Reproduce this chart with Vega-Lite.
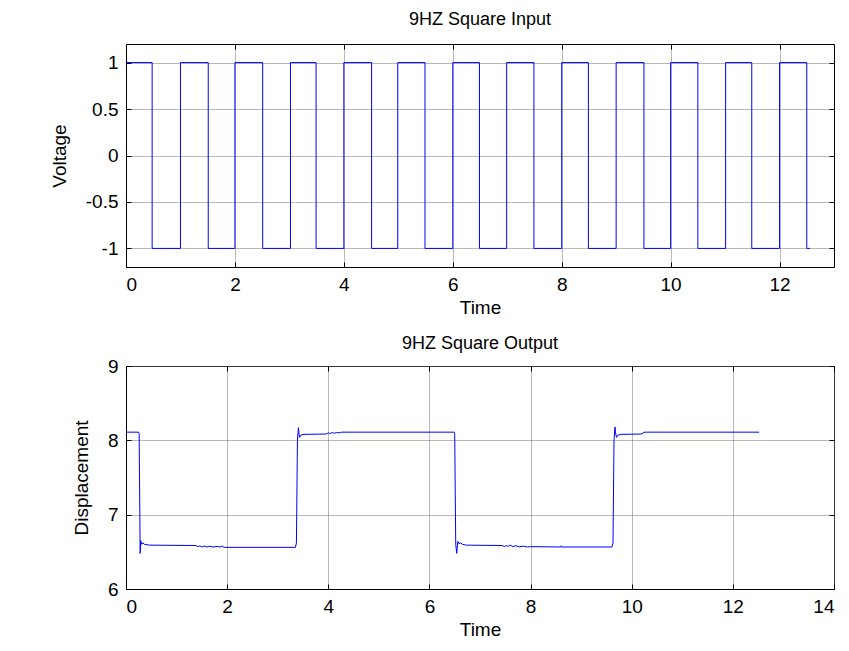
{
  "$schema": "https://vega.github.io/schema/vega-lite/v6.json",
  "padding": {"left": 49, "top": 10, "right": 10, "bottom": 5},
  "spacing": 16,
  "config": {
    "font": "Liberation Sans",
    "view": {"stroke": "#000000", "strokeWidth": 1},
    "axis": {
      "domainColor": "#000000",
      "tickColor": "#000000",
      "tickSize": -5,
      "labelPadding": 13,
      "labelColor": "#000000",
      "titleColor": "#000000",
      "labelFont": "Liberation Sans",
      "titleFont": "Liberation Sans",
      "labelFontSize": 19,
      "titleFontSize": 19,
      "titleFontWeight": "normal",
      "gridColor": "#707070",
      "gridDash": [1, 1],
      "gridOpacity": 1,
      "labelExpr": "toString(datum.value)"
    },
    "title": {"font": "Liberation Sans", "fontSize": 18, "fontWeight": "normal", "color": "#000000", "offset": 15}
  },
  "vconcat": [
    {
      "title": "9HZ Square Input",
      "width": 708,
      "height": 223,
      "data": {"values": [
        {"t": 0, "v": 1}, {"t": 0.48, "v": -1}, {"t": 1.0, "v": 1}, {"t": 1.51, "v": -1},
        {"t": 2.0, "v": 1}, {"t": 2.51, "v": -1}, {"t": 3.02, "v": 1}, {"t": 3.49, "v": -1},
        {"t": 4.0, "v": 1}, {"t": 4.51, "v": -1}, {"t": 4.99, "v": 1}, {"t": 5.49, "v": -1},
        {"t": 6.0, "v": 1}, {"t": 6.49, "v": -1}, {"t": 6.99, "v": 1}, {"t": 7.49, "v": -1},
        {"t": 8.0, "v": 1}, {"t": 8.49, "v": -1}, {"t": 9.0, "v": 1}, {"t": 9.51, "v": -1},
        {"t": 10.0, "v": 1}, {"t": 10.5, "v": -1}, {"t": 11.01, "v": 1}, {"t": 11.49, "v": -1},
        {"t": 12.0, "v": 1}, {"t": 12.5, "v": -1}, {"t": 12.56, "v": -1}
      ]},
      "resolve": {"axis": {"x": "independent", "y": "independent"}},
      "layer": [
        {
          "mark": {"type": "line", "interpolate": "step-after", "color": "#0000ff", "strokeWidth": 1},
          "encoding": {
            "x": {"field": "t", "type": "quantitative", "scale": {"domain": [0, 13], "nice": false, "zero": false},
                  "axis": {"title": "Time", "values": [0, 2, 4, 6, 8, 10, 12], "titlePadding": 4, "grid": true}},
            "y": {"field": "v", "type": "quantitative", "scale": {"domain": [-1.2, 1.2], "nice": false},
                  "axis": {"title": "Voltage", "values": [-1, -0.5, 0, 0.5, 1], "titlePadding": 16, "grid": true}}
          }
        },
        {
          "mark": {"type": "point", "opacity": 0},
          "encoding": {
            "x": {"field": "t", "type": "quantitative",
                  "axis": {"orient": "top", "title": null, "labels": false, "grid": false, "domain": false, "values": [0, 2, 4, 6, 8, 10, 12]}},
            "y": {"field": "v", "type": "quantitative",
                  "axis": {"orient": "right", "title": null, "labels": false, "grid": false, "domain": false, "values": [-1, -0.5, 0, 0.5, 1]}}
          }
        }
      ]
    },
    {
      "title": {"text": "9HZ Square Output", "offset": 4},
      "width": 708,
      "height": 223,
      "data": {"values": [
        {"t": 0, "d": 8.11}, {"t": 0.25, "d": 8.11}, {"t": 0.26, "d": 8.09}, {"t": 0.28, "d": 6.48},
        {"t": 0.29, "d": 6.65}, {"t": 0.31, "d": 6.6}, {"t": 0.33, "d": 6.62}, {"t": 0.37, "d": 6.6},
        {"t": 0.47, "d": 6.59}, {"t": 1.38, "d": 6.585}, {"t": 1.42, "d": 6.57}, {"t": 1.46, "d": 6.58},
        {"t": 1.5, "d": 6.565}, {"t": 1.55, "d": 6.578}, {"t": 1.6, "d": 6.565}, {"t": 1.66, "d": 6.575},
        {"t": 1.72, "d": 6.565}, {"t": 1.8, "d": 6.572}, {"t": 1.86, "d": 6.565}, {"t": 1.9, "d": 6.578},
        {"t": 1.94, "d": 6.56}, {"t": 3.35, "d": 6.56}, {"t": 3.37, "d": 6.62}, {"t": 3.39, "d": 8.0},
        {"t": 3.41, "d": 8.17}, {"t": 3.42, "d": 8.1}, {"t": 3.43, "d": 8.04}, {"t": 3.46, "d": 8.07},
        {"t": 3.5, "d": 8.08}, {"t": 3.96, "d": 8.085}, {"t": 4.0, "d": 8.1}, {"t": 4.04, "d": 8.092},
        {"t": 4.08, "d": 8.105}, {"t": 4.12, "d": 8.095}, {"t": 4.16, "d": 8.105}, {"t": 4.22, "d": 8.1},
        {"t": 4.26, "d": 8.11}, {"t": 6.49, "d": 8.11}, {"t": 6.5, "d": 8.09}, {"t": 6.52, "d": 6.6},
        {"t": 6.54, "d": 6.48}, {"t": 6.56, "d": 6.64}, {"t": 6.58, "d": 6.61}, {"t": 6.61, "d": 6.62},
        {"t": 6.66, "d": 6.6}, {"t": 6.73, "d": 6.59}, {"t": 7.44, "d": 6.585}, {"t": 7.48, "d": 6.57},
        {"t": 7.52, "d": 6.583}, {"t": 7.56, "d": 6.575}, {"t": 7.6, "d": 6.59}, {"t": 7.65, "d": 6.57},
        {"t": 7.7, "d": 6.582}, {"t": 7.78, "d": 6.568}, {"t": 7.86, "d": 6.576}, {"t": 7.94, "d": 6.565},
        {"t": 8.0, "d": 6.57}, {"t": 8.6, "d": 6.565}, {"t": 8.61, "d": 6.582}, {"t": 8.62, "d": 6.565},
        {"t": 9.61, "d": 6.565}, {"t": 9.63, "d": 6.62}, {"t": 9.65, "d": 8.0}, {"t": 9.67, "d": 8.18},
        {"t": 9.68, "d": 8.1}, {"t": 9.7, "d": 8.04}, {"t": 9.73, "d": 8.07}, {"t": 9.78, "d": 8.08},
        {"t": 10.2, "d": 8.085}, {"t": 10.22, "d": 8.1}, {"t": 10.26, "d": 8.11}, {"t": 12.52, "d": 8.11}
      ]},
      "resolve": {"axis": {"x": "independent", "y": "independent"}},
      "layer": [
        {
          "mark": {"type": "line", "color": "#0000ff", "strokeWidth": 1},
          "encoding": {
            "x": {"field": "t", "type": "quantitative", "scale": {"domain": [0, 14], "nice": false},
                  "axis": {"title": "Time", "values": [0, 2, 4, 6, 8, 10, 12, 14], "titlePadding": 4, "grid": true}},
            "y": {"field": "d", "type": "quantitative", "scale": {"domain": [6, 9], "nice": false, "zero": false},
                  "axis": {"title": "Displacement", "values": [6, 7, 8, 9], "titlePadding": 16, "grid": true}}
          }
        },
        {
          "mark": {"type": "point", "opacity": 0},
          "encoding": {
            "x": {"field": "t", "type": "quantitative",
                  "axis": {"orient": "top", "title": null, "labels": false, "grid": false, "domain": false, "values": [0, 2, 4, 6, 8, 10, 12, 14]}},
            "y": {"field": "d", "type": "quantitative",
                  "axis": {"orient": "right", "title": null, "labels": false, "grid": false, "domain": false, "values": [6, 7, 8, 9]}}
          }
        }
      ]
    }
  ]
}
